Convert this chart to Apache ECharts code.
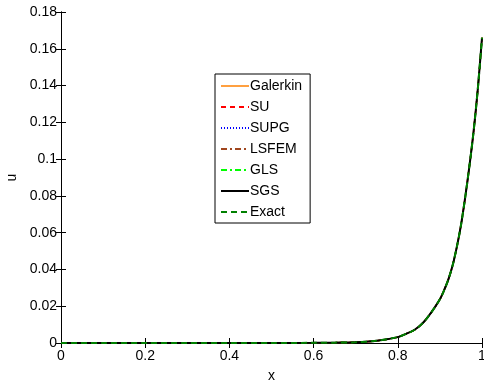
<!DOCTYPE html>
<html>
<head>
<meta charset="utf-8">
<script src="https://cdn.jsdelivr.net/npm/echarts@6/dist/echarts.min.js"></script>
<style>html,body{margin:0;padding:0;background:#fff;}#c{width:484px;height:385px;}</style>
</head>
<body>
<div id="c"></div>
<script>
var xs       = [0, 0.1, 0.2, 0.3, 0.4, 0.5, 0.6, 0.65, 0.7, 0.75, 0.8, 0.82, 0.84, 0.86, 0.88, 0.9, 0.91, 0.92, 0.93, 0.94, 0.95, 0.96, 0.97, 0.98, 0.99, 1.0];
var galerkin = [0, 0, 0, 0, 0, 0, 0.0001, 0.0002, 0.0004, 0.0012, 0.0032, 0.0050, 0.0072, 0.0110, 0.0168, 0.0238, 0.0287, 0.0345, 0.0420, 0.0520, 0.0640, 0.0790, 0.0960, 0.1150, 0.1380, 0.1660];
var su       = [0, 0, 0, 0, 0, 0, 0.0001, 0.0002, 0.0004, 0.0012, 0.0032, 0.0050, 0.0072, 0.0110, 0.0168, 0.0238, 0.0287, 0.0345, 0.0420, 0.0520, 0.0640, 0.0790, 0.0960, 0.1150, 0.1380, 0.1660];
var supg     = [0, 0, 0, 0, 0, 0, 0.0001, 0.0002, 0.0004, 0.0012, 0.0032, 0.0050, 0.0072, 0.0110, 0.0168, 0.0238, 0.0287, 0.0345, 0.0420, 0.0520, 0.0640, 0.0790, 0.0960, 0.1150, 0.1380, 0.1660];
var lsfem    = [0, 0, 0, 0, 0, 0, 0.0001, 0.0002, 0.0004, 0.0012, 0.0032, 0.0050, 0.0072, 0.0110, 0.0168, 0.0238, 0.0287, 0.0345, 0.0420, 0.0520, 0.0640, 0.0790, 0.0960, 0.1150, 0.1380, 0.1660];
var gls      = [0, 0, 0, 0, 0, 0, 0.0001, 0.0002, 0.0004, 0.0012, 0.0032, 0.0050, 0.0072, 0.0110, 0.0168, 0.0238, 0.0287, 0.0345, 0.0420, 0.0520, 0.0640, 0.0790, 0.0960, 0.1150, 0.1380, 0.1660];
var sgs      = [0, 0, 0, 0, 0, 0, 0.0001, 0.0002, 0.0004, 0.0012, 0.0032, 0.0050, 0.0072, 0.0110, 0.0168, 0.0238, 0.0287, 0.0345, 0.0420, 0.0520, 0.0640, 0.0790, 0.0960, 0.1150, 0.1380, 0.1660];
var exact    = [0, 0, 0, 0, 0, 0, 0.0001, 0.0002, 0.0004, 0.0012, 0.0032, 0.0050, 0.0072, 0.0110, 0.0168, 0.0238, 0.0287, 0.0345, 0.0420, 0.0520, 0.0640, 0.0790, 0.0960, 0.1150, 0.1380, 0.1660];
var seriesNames = ['Galerkin', 'SU', 'SUPG', 'LSFEM', 'GLS', 'SGS', 'Exact'];
var xTicks = ['0', '0.2', '0.4', '0.6', '0.8', '1'];
var yTicks = ['0', '0.02', '0.04', '0.06', '0.08', '0.1', '0.12', '0.14', '0.16', '0.18'];

function pairs(arr) { return xs.map(function (x, i) { return [x, arr[i]]; }); }

var FONT = 'Liberation Sans';
var styles = [
  { color: '#FFA040', type: 'solid', width: 1.5 },
  { color: '#FF0000', type: [5, 4], width: 1.5 },
  { color: '#0000FF', type: [1, 2], width: 1 },
  { color: '#A0461E', type: [6, 3, 2, 3], width: 1.5 },
  { color: '#00FF00', type: [6, 3, 2, 3], width: 1.5 },
  { color: '#000000', type: 'solid', width: 2 },
  { color: '#008000', type: [6, 4], width: 2 }
];
var datas = [galerkin, su, supg, lsfem, gls, sgs, exact];

var series = seriesNames.map(function (n, i) {
  return {
    name: n, type: 'line', data: pairs(datas[i]), xAxisIndex: 0, yAxisIndex: 0,
    symbol: 'none', smooth: 0.3, color: styles[i].color,
    lineStyle: { color: styles[i].color, type: styles[i].type, width: styles[i].width },
    animation: false, z: 2 + i
  };
});

var axisLineStyle = { show: true, lineStyle: { color: '#000', width: 1 } };
var chart = echarts.init(document.getElementById('c'), null, { renderer: 'canvas' });
chart.setOption({
  animation: false,
  backgroundColor: '#fff',
  grid: { left: 61, right: 2, top: 12, bottom: 42, containLabel: false, outerBoundsMode: 'none' },
  legend: {
    data: seriesNames, orient: 'vertical', left: 215, top: 74,
    itemWidth: 28, itemHeight: 14, itemGap: 7,
    itemStyle: { opacity: 0 },
    backgroundColor: '#fff', borderColor: '#000', borderWidth: 1,
    padding: [5, 8, 4, 5],
    textStyle: { fontFamily: FONT, fontSize: 14, color: '#000', padding: [0, 0, 0, -4] }
  },
  xAxis: [{
    type: 'value', min: 0, max: 1, interval: 0.2, position: 'bottom',
    name: 'x', nameLocation: 'middle', nameGap: 26,
    nameTextStyle: { fontFamily: FONT, fontSize: 14, color: '#000' },
    axisLine: axisLineStyle,
    axisTick: { show: true, inside: true, length: 5, lineStyle: { color: '#000' } },
    axisLabel: { fontFamily: FONT, fontSize: 14, color: '#000', margin: 6,
      formatter: function (v) { return xTicks[Math.round(v / 0.2)]; } },
    splitLine: { show: false }
  }, {
    type: 'value', min: 0, max: 1, interval: 0.2, position: 'top',
    axisLine: axisLineStyle,
    axisTick: { show: true, inside: true, length: 5, lineStyle: { color: '#000' } },
    axisLabel: { show: false }, splitLine: { show: false }
  }],
  yAxis: [{
    type: 'value', min: 0, max: 0.18, interval: 0.02, position: 'left',
    name: 'u', nameLocation: 'middle', nameGap: 42, nameRotate: 90,
    nameTextStyle: { fontFamily: FONT, fontSize: 14, color: '#000' },
    axisLine: axisLineStyle,
    axisTick: { show: true, inside: true, length: 5, lineStyle: { color: '#000' } },
    axisLabel: { fontFamily: FONT, fontSize: 14, color: '#000', margin: 4,
      formatter: function (v) { return yTicks[Math.round(v / 0.02)]; } },
    splitLine: { show: false }
  }, {
    type: 'value', min: 0, max: 0.18, interval: 0.02, position: 'right',
    axisLine: axisLineStyle,
    axisTick: { show: true, inside: true, length: 5, lineStyle: { color: '#000' } },
    axisLabel: { show: false }, splitLine: { show: false }
  }],
  series: series
});
</script>
</body>
</html>
